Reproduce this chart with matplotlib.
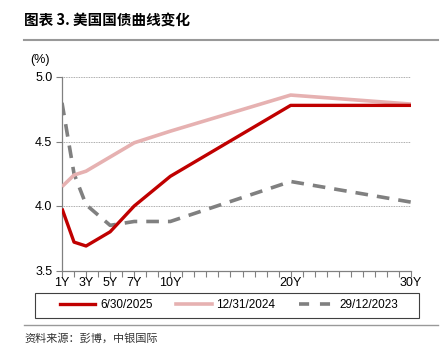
import matplotlib
matplotlib.use('Agg')
import matplotlib.pyplot as plt
from matplotlib.lines import Line2D
from matplotlib.patches import Rectangle

plt.rcParams['font.family'] = ['Liberation Sans', 'Noto Sans CJK SC', 'DejaVu Sans']

# 期限(年)
tenor = [1, 2, 3, 5, 7, 10, 20, 30]
tick_years = [1, 3, 5, 7, 10, 20, 30]
tick_labels = ['1Y', '3Y', '5Y', '7Y', '10Y', '20Y', '30Y']

# 收益率 (%)
y_2025 = [3.98, 3.72, 3.69, 3.80, 4.00, 4.23, 4.78, 4.78]
y_2024 = [4.15, 4.24, 4.27, 4.38, 4.49, 4.58, 4.86, 4.79]
y_2023 = [4.80, 4.25, 4.01, 3.85, 3.88, 3.88, 4.19, 4.03]

labels = ['6/30/2025', '12/31/2024', '29/12/2023']

fig = plt.figure(figsize=(4.44, 3.48), dpi=100)
ax = fig.add_axes([62/444, 1 - 270.5/348, (411 - 62)/444, (270.5 - 77)/348])

ax.plot(tenor, y_2024, color='#e6b1b1', lw=2.6, solid_capstyle='butt', zorder=3)
ax.plot(tenor, y_2025, color='#c00000', lw=2.4, solid_capstyle='butt', zorder=4)
ax.plot(tenor, y_2023, color='#808080', lw=2.6, dashes=(3.5, 2.5), zorder=2)

ax.set_xlim(1, 30)
ax.set_ylim(3.5, 5.0)
ax.set_yticks([3.5, 4.0, 4.5, 5.0])
ax.set_yticklabels(['3.5', '4.0', '4.5', '5.0'])
ax.set_xticks(tick_years)
ax.set_xticklabels(tick_labels)
ax.set_xticks(range(1, 31), minor=True)
ax.tick_params(axis='x', which='both', length=4, color='#808080', width=0.8,
               labelsize=9, pad=1)
ax.tick_params(axis='y', length=4, color='#808080', width=0.8, labelsize=9, pad=3)

for s in ['top', 'right']:
    ax.spines[s].set_visible(False)
for s in ['left', 'bottom']:
    ax.spines[s].set_color('#808080')
    ax.spines[s].set_linewidth(0.9)

for v in [4.0, 4.5, 5.0]:
    ax.axhline(v, color='#909090', lw=0.6, ls=(0, (1, 1)), zorder=1)

# (%)
fig.text(30/444, 1 - 60/348, '(%)', fontsize=9, va='center', ha='left')

# 标题
fig.text(24/444, 1 - 20/348, '图表 3. 美国国债曲线变化', fontsize=10.5, fontweight='bold',
         family=['Noto Sans CJK SC', 'DejaVu Sans'], va='center', ha='left')
fig.add_artist(Line2D([24/444, 438/444], [1 - 40/348, 1 - 40/348],
                      color='#999999', lw=1.5))
fig.add_artist(Line2D([24/444, 438/444], [1 - 325/348, 1 - 325/348],
                      color='#999999', lw=1.0))

# 图例
fig.add_artist(Rectangle((35/444, 1 - 318/348), (419 - 35)/444, 25/348,
                         transform=fig.transFigure, fill=False,
                         edgecolor='#404040', lw=0.8))
handles = [
    Line2D([], [], color='#c00000', lw=2.4),
    Line2D([], [], color='#e6b1b1', lw=2.6),
    Line2D([], [], color='#808080', lw=2.6, dashes=(2.8, 3.0)),
]
leg = fig.legend(handles, labels, loc='center', ncol=3,
                 bbox_to_anchor=(229/444, 1 - 305.5/348), frameon=False,
                 fontsize=8.5, handlelength=3.0, handletextpad=0.4,
                 columnspacing=2.0, borderpad=0.2)

fig.text(24/444, 1 - 338/348, '资料来源：彭博，中银国际', fontsize=8, style='italic',
         family=['Noto Sans CJK SC', 'DejaVu Sans'], va='center', ha='left',
         color='#333333')

fig.savefig('out.png', dpi=100)
